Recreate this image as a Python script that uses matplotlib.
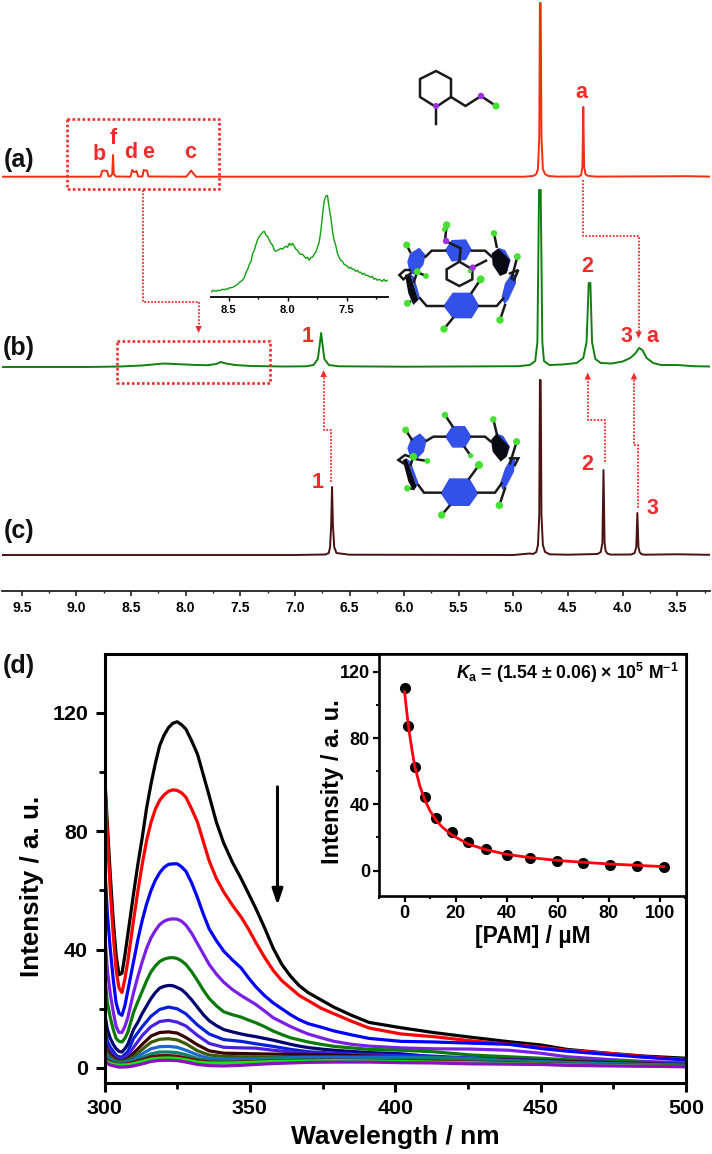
import numpy as np
import matplotlib
matplotlib.use("Agg")
import matplotlib.pyplot as plt
from matplotlib.patches import Polygon, Circle
from matplotlib.ticker import MultipleLocator

plt.rcParams['font.family'] = ['Liberation Sans', 'DejaVu Sans']
plt.rcParams['font.weight'] = 'bold'
plt.rcParams['mathtext.fontset'] = 'custom'
plt.rcParams['mathtext.rm'] = 'Liberation Sans:bold'
plt.rcParams['mathtext.bf'] = 'Liberation Sans:bold'
plt.rcParams['mathtext.it'] = 'Liberation Sans:italic:bold'

W, H = 712, 1154

# ---------- NMR data ----------
A_PPM = [9.68, 8.78, 8.765, 8.745, 8.72, 8.705, 8.685, 8.672, 8.665, 8.658, 8.64, 8.505, 8.49, 8.475, 8.465, 8.45,
         8.435, 8.395, 8.385, 8.37, 8.355, 8.34, 7.995, 7.97, 7.95, 7.93, 7.905, 4.9, 4.82, 4.79, 4.775, 4.763, 4.757,
         4.75, 4.743, 4.73, 4.71, 4.68, 4.6, 4.4, 4.38, 4.368, 4.36, 4.352, 4.34, 4.32, 4.25, 3.4, 3.2]
A_INT = [0.3, 0.3, 6, 6.5, 6, 0.5, 1, 3, 22, 3, 0.5, 0.3, 7, 5, 5, 6, 0.5, 0.5, 7, 6.5, 6.5, 0.5, 0.3, 3.5, 6.5, 3.5,
         0.3, 0.3, 1, 3, 8, 40, 174, 174, 40, 8, 3, 1, 0.4, 0.5, 2, 10, 70, 10, 3, 1.2, 0.4, 0.8, 0.4]
B_PPM = [9.68, 8.9, 8.6, 8.4, 8.3, 8.2, 8.1, 8.0, 7.9, 7.8, 7.72, 7.68, 7.63, 7.55, 7.4, 7.1, 6.9, 6.83, 6.79, 6.77,
         6.76, 6.75, 6.73, 6.69, 6.6, 6.0, 4.95, 4.85, 4.8, 4.78, 4.765, 4.75, 4.735, 4.72, 4.67, 4.55, 4.42, 4.36,
         4.33, 4.31, 4.295, 4.28, 4.25, 4.2, 4.1, 4.0, 3.93, 3.88, 3.85, 3.82, 3.78, 3.72, 3.65, 3.5, 3.35, 3.2]
B_INT = [0, 0, 0.5, 1.5, 2.5, 3.5, 3, 2.5, 2, 1.8, 3, 5, 3.5, 2, 1, 0.5, 0.7, 2, 8, 25, 34, 25, 8, 2, 0.7, 0.3, 0.8,
         2, 6, 25, 177, 177, 25, 6, 2, 2.5, 4, 9, 25, 84, 84, 25, 8, 4, 3.5, 5.5, 9, 14, 19, 17, 9, 4, 2, 2, 0.8, 0.5]
C_PPM = [9.68, 7.0, 6.72, 6.69, 6.678, 6.668, 6.66, 6.652, 6.64, 6.62, 6.5, 5.0, 4.85, 4.82, 4.79, 4.775, 4.763, 4.757,
         4.75, 4.743, 4.73, 4.71, 4.69, 4.67, 4.5, 4.23, 4.2, 4.185, 4.175, 4.165, 4.155, 4.14, 4.11, 3.92, 3.89,
         3.875, 3.865, 3.855, 3.845, 3.83, 3.8, 3.5, 3.2]
C_INT = [0, 0, 0.5, 2, 8, 30, 68, 30, 8, 2, 0.3, 0, 1.5, 1, 3, 10, 40, 175, 175, 40, 10, 3, 2, 0.7, 0.3, 1, 3, 12, 85,
         12, 4, 1.5, 0.4, 0.5, 2, 8, 42, 8, 3, 1, 0.3, 0.7, 0.2]
NMR_TICKS = [9.5, 9.0, 8.5, 8.0, 7.5, 7.0, 6.5, 6.0, 5.5, 5.0, 4.5, 4.0, 3.5]

ZOOM_PPM = np.linspace(8.649, 7.156, 107)
ZOOM_INT = [5.5, 7, 6.5, 6, 7, 6.5, 7.5, 8, 7.5, 8.5, 8, 9.5, 9.5, 10, 11, 12, 13, 15, 16, 17.5, 20, 25, 28, 33, 36, 44,
            47, 53, 58, 61, 63, 65, 66, 62, 61, 57, 54, 52, 47, 46, 47, 48, 49, 48, 50, 51, 50, 54, 52, 54, 51, 48, 47,
            44, 43, 43, 41, 39, 40, 37, 40, 40, 43, 45, 50, 55, 66, 82, 96, 101, 102, 90, 80, 67, 57, 52, 44, 40, 37,
            36, 33, 32, 31, 29, 30, 28, 28, 26, 27, 25, 25, 23, 24, 22, 22, 21, 20, 21, 18, 19, 17, 18, 17, 16, 18, 16, 17]
ZOOM_TICKS = [8.5, 8.0, 7.5]

# ---------- fluorescence data ----------
WL = [300, 301, 302, 304, 305, 306, 308, 310, 313, 316, 319, 322, 325, 328, 332, 336, 341, 347, 352, 358, 364, 370,
      379, 391, 402, 413, 426, 439, 450, 459, 473, 486, 500]
I_BLACK = [100, 82, 65, 38, 31.5, 32, 45, 59, 78, 96, 109, 115, 117, 114.5, 106, 92, 76, 64, 54, 40.5, 31, 25.5, 20.5,
           15.4, 13.6, 12, 10.4, 8.9, 7.8, 6.3, 5, 4, 3.3]
I_RED = [100, 78, 60, 33, 27, 25.5, 36, 50, 69, 83, 90.5, 93.5, 93.8, 91.5, 83, 70, 59.5, 51, 42.5, 33, 27, 22.8, 18.3,
         13.5, 11.5, 10.6, 9.2, 8.1, 7, 6, 5, 3.8, 2.9]
I_BLUE = [70, 52, 40, 22, 18.5, 17.8, 26, 36, 50, 60, 66, 68.8, 69, 66.5, 57.5, 47, 39.5, 33.8, 27.5, 22, 18, 15, 12.5,
          10, 9, 8.8, 8.4, 8, 6.6, 5.7, 4.6, 3.6, 2.7]
I_VIOLET = [46, 33, 25, 14, 12, 12, 17, 25.5, 36, 44, 48.5, 50.2, 50.3, 48.3, 42, 35, 29, 24.5, 21.5, 17, 14, 11.5, 9,
            7.4, 6.8, 6.5, 6.4, 6, 5, 3.8, 2.9, 2.2, 1.8]
I_GREEN = [32, 22, 17, 10, 9, 8.8, 12, 18.8, 26, 32.5, 36, 37.2, 37, 35, 29.5, 23.5, 19, 17.2, 15.3, 12.5, 10.2, 8.8,
           7.3, 6.3, 6, 5.5, 4.4, 3.8, 3.3, 2.8, 2.4, 1.9, 1.4]
I_NAVY = [19, 13, 10, 6.5, 5.6, 5.4, 8, 13, 18.5, 23.5, 27, 27.9, 27.2, 25.2, 20.5, 16, 13, 11.5, 10.6, 9.4, 8, 6.9, 6,
          5.2, 4.8, 3.8, 3, 2.6, 2.1, 1.8, 1.5, 1.2, 1]
I_BLUE2 = [14, 9, 7, 4.3, 3.8, 3.7, 5.5, 10, 14, 17.5, 19.8, 20.6, 20, 18.3, 14.5, 11.5, 9.6, 9, 8.2, 7.3, 6.3, 5.5, 5,
           4.6, 4.3, 4, 3.4, 2.9, 2.5, 2.2, 1.9, 1.6, 1.3]
I_INDIGO = [11, 7, 5.5, 3.4, 3, 3, 4.2, 7, 11, 14, 15.7, 16.1, 15.5, 14.2, 11, 8.3, 7, 6.8, 6.7, 6, 5.4, 5, 4.8, 4.3,
            3.9, 3.7, 3.2, 2.8, 2.5, 2.2, 1.8, 1.5, 1.2]
I_MAROON = [9, 6, 4.5, 2.8, 2.4, 2.3, 3.2, 5, 8, 10.8, 12, 12.2, 11.8, 10.3, 7.8, 5.8, 5, 4.9, 4.8, 4.7, 4.6, 4.6, 4.4,
            4, 3.7, 3.4, 3, 2.7, 2.5, 2.2, 1.8, 1.4, 1.1]
I_OLIVE = [8, 5, 3.8, 2.5, 2.2, 2.2, 2.7, 3.8, 6.3, 8.7, 9.7, 9.9, 9.5, 8.2, 5.8, 4.4, 3.9, 3.8, 3.8, 3.7, 3.7, 3.7,
           3.6, 3.4, 3.2, 3, 2.6, 2.3, 2, 1.8, 1.5, 1.2, 1]
I_AZURE = [6, 3.8, 3, 2, 1.8, 1.8, 2.2, 2.9, 4.8, 6.5, 7.2, 7.3, 7, 6, 4.4, 3.3, 3, 3, 3.1, 3.3, 3.5, 3.6, 3.7, 3.7,
           3.7, 3.5, 3, 2.5, 2.2, 1.9, 1.5, 1.2, 0.9]
I_TEAL = [5, 3.2, 2.5, 1.7, 1.5, 1.5, 1.8, 2.4, 3.6, 4.8, 5.4, 5.4, 5.2, 4.5, 3.2, 2.5, 2.3, 2.4, 2.6, 2.8, 2.9, 3, 3,
          3.1, 3.2, 3.5, 3.2, 2.4, 1.8, 1.6, 1.3, 1, 0.8]
I_DKRED = [4, 2.5, 2, 1.3, 1.2, 1.2, 1.4, 2, 2.8, 3.8, 4.2, 4.2, 4, 3.4, 2.5, 2, 1.9, 2, 2.2, 2.4, 2.5, 2.6, 2.6, 2.5,
           2.5, 2.3, 2, 1.7, 1.4, 1.2, 1, 0.8, 0.6]
I_LIME = [3, 2, 1.6, 1.1, 1, 1, 1.1, 1.5, 2.2, 3, 3.3, 3.4, 3.2, 2.8, 2, 1.7, 1.7, 1.8, 2, 2.2, 2.3, 2.4, 2.5, 2.4,
          2.2, 2, 1.8, 1.5, 1.3, 1.1, 0.9, 0.7, 0.5]
I_PURPLE = [2.5, 1.5, 1, 0.5, 0.3, 0.3, 0.4, 0.7, 1.4, 2.2, 2.6, 2.6, 2.5, 2, 1.2, 0.8, 0.7, 0.9, 1.2, 1.5, 1.7, 1.9,
            2, 2, 1.8, 1.7, 1.4, 1.3, 1.2, 0.9, 0.7, 0.6, 0.4]
SERIES = [I_BLACK, I_RED, I_BLUE, I_VIOLET, I_GREEN, I_NAVY, I_BLUE2, I_INDIGO, I_MAROON, I_OLIVE, I_AZURE, I_TEAL,
          I_DKRED, I_LIME, I_PURPLE]
COLORS = ['#000000', '#ff0000', '#0000ff', '#7a1fe8', '#0a7a0a', '#000070', '#0a20d8', '#4a20e0', '#3a0000', '#3c5a00',
          '#1a6ad0', '#108070', '#6a0a0a', '#10e810', '#8a10c0']

# extra readings for the six tallest curves, taken between the common wavelengths above
WL_EXTRA = [303, 307, 311.5, 314.5, 317.5, 320.5, 323.5, 326.5, 330, 334, 338.5, 344, 349.5, 355, 361, 367, 374.5, 385]
X_BLACK = [50, 38, 69, 88, 103, 112.5, 116.5, 116, 110.5, 99, 83, 69.5, 59, 47.5, 35, 27.8, 23, 17.8]
X_RED = [45, 30, 60, 77, 87.5, 92.3, 94, 93, 87.5, 76.5, 64, 55, 47, 37.5, 29.5, 24.5, 20.2, 15.8]
X_BLUE = [30, 21, 43.5, 55.5, 63.5, 67.8, 69, 68, 62.5, 52, 43, 36.5, 30.5, 24.5, 20, 16.3, 13.8, 11.2]
X_VIOLET = [19, 14, 31, 40.5, 46.5, 49.6, 50.4, 49.6, 45.5, 38.5, 31.7, 26.5, 23, 19.3, 15.5, 12.7, 10.2, 8]
X_GREEN = [13, 10, 22.5, 29.5, 34.5, 36.8, 37.3, 36.2, 32.5, 26.3, 21, 18, 16.2, 14, 11.3, 9.5, 8, 6.8]
X_NAVY = [8, 6.5, 15.5, 21, 25.5, 27.6, 27.8, 26.5, 23, 18, 14.3, 12.2, 11, 10, 8.7, 7.4, 6.4, 5.6]
EXTRAS = [X_BLACK, X_RED, X_BLUE, X_VIOLET, X_GREEN, X_NAVY]

PAM = [0, 1.3, 4, 8, 12.5, 18.5, 25, 32, 40, 49, 59.5, 70, 80.5, 91, 101.5]
PAM_I = [110, 87, 62.8, 44.7, 32, 23.5, 17.3, 12.9, 9.5, 7.4, 5.8, 4.4, 3.4, 2.8, 2.2]
FIT_X = [0, 1, 2, 3, 4, 6, 8, 10, 12.5, 15, 18.5, 25, 32, 40, 49, 59.5, 70, 80.5, 91, 101.5]
FIT_Y = [108, 94, 82, 72, 63, 51, 42.5, 36, 30, 26, 21.5, 16, 12.6, 9.8, 7.9, 6.2, 5, 4, 3.2, 2.4]

fig = plt.figure(figsize=(W / 100, H / 100), dpi=100, facecolor='white')


def rect(l, t, r, b):
    return [l / W, 1 - b / H, (r - l) / W, (b - t) / H]


# ---------- NMR axes ----------
ax = fig.add_axes(rect(2, 0, 710, 590.7))
ax.patch.set_alpha(0)
ax.set_xlim(9.6815, 3.2)
ax.set_ylim(0, 590.7)
for s in ('top', 'left', 'right'):
    ax.spines[s].set_visible(False)
ax.spines['bottom'].set_linewidth(1.3)
ax.spines['bottom'].set_color('#222222')
ax.set_yticks([])
ax.set_xticks(NMR_TICKS)
ax.set_xticklabels(['%.1f' % t for t in NMR_TICKS], fontsize=10)
ax.xaxis.set_minor_locator(MultipleLocator(0.25))
ax.tick_params(axis='x', which='major', length=3.5, width=1.2, pad=4, color='#222222')
ax.tick_params(axis='x', which='minor', length=1.5, width=1.0, color='#222222')
ax.plot(A_PPM, np.array(A_INT) + 413.7, color='#f03010', lw=1.4, solid_joinstyle='round')
ax.plot(B_PPM, np.array(B_INT) + 223.7, color='#108010', lw=1.4, solid_joinstyle='round')
ax.plot(C_PPM, np.array(C_INT) + 35.7, color='#4a1212', lw=1.4, solid_joinstyle='round')

# zoomed spectrum
az = fig.add_axes(rect(210.7, 190, 388.3, 297.3))
az.patch.set_alpha(0)
az.set_xlim(8.653, 7.147)
az.set_ylim(0, 107.3)
for s in ('top', 'left', 'right'):
    az.spines[s].set_visible(False)
az.spines['bottom'].set_linewidth(1.3)
az.set_yticks([])
az.set_xticks(ZOOM_TICKS)
az.set_xticklabels(['%.1f' % t for t in ZOOM_TICKS], fontsize=8)
az.xaxis.set_minor_locator(MultipleLocator(0.25))
az.tick_params(axis='x', which='major', length=3, width=1, pad=2.5)
az.tick_params(axis='x', which='minor', length=1.5, width=1)
az.plot(ZOOM_PPM, ZOOM_INT, color='#10a010', lw=1.0)

# ---------- fluorescence axes ----------
am = fig.add_axes(rect(104.5, 654, 686, 1082.5))
am.set_xlim(300, 500)
am.set_ylim(-4.9, 139.9)
for s in am.spines.values():
    s.set_linewidth(2.2)
for i, (y, c) in enumerate(zip(SERIES, COLORS)):
    xs, ys = np.array(WL, float), np.array(y, float)
    if i < len(EXTRAS):
        xs = np.concatenate([xs, WL_EXTRA])
        ys = np.concatenate([ys, EXTRAS[i]])
        order = np.argsort(xs)
        xs, ys = xs[order], ys[order]
    am.plot(xs, ys, color=c, lw=2.3, solid_joinstyle='round', solid_capstyle='butt')
am.set_xticks([300, 350, 400, 450, 500])
am.set_yticks([0, 40, 80, 120])
am.xaxis.set_minor_locator(MultipleLocator(25))
am.yaxis.set_minor_locator(MultipleLocator(20))
am.tick_params(which='major', length=6.8, width=2.2, labelsize=15.4, pad=5)
am.tick_params(which='minor', length=4, width=2)
am.set_xlabel('Wavelength / nm', fontsize=19, fontweight='bold', va='center')
am.xaxis.set_label_coords(0.5, (1082.5 - 1137) / 428.5)
am.set_ylabel('Intensity / a. u.', fontsize=18.7, fontweight='bold', va='center')
am.yaxis.set_label_coords((32 - 104.5) / 581.5, (1082.5 - 886) / 428.5)
am.annotate('', xy=(359.5, 55), xytext=(359.5, 95),
            arrowprops=dict(arrowstyle='-|>,head_width=0.32,head_length=0.95', lw=2.2, color='black',
                            shrinkA=0, shrinkB=0))

# inset
ai = fig.add_axes(rect(379, 654, 686, 896))
ai.set_xlim(-10, 110.2)
ai.set_ylim(-15.3, 130.7)
for s in ai.spines.values():
    s.set_linewidth(1.9)
ai.plot(PAM, PAM_I, 'o', color='black', ms=8, mew=0, zorder=2)
ai.plot(FIT_X, FIT_Y, color='#ff0010', lw=2, zorder=3, solid_joinstyle='round')
ai.set_xticks([0, 20, 40, 60, 80, 100])
ai.set_yticks([0, 40, 80, 120])
ai.xaxis.set_minor_locator(MultipleLocator(10))
ai.yaxis.set_minor_locator(MultipleLocator(20))
ai.tick_params(which='major', length=4, width=1.6, labelsize=13, pad=2.5)
ai.tick_params(which='minor', length=2.5, width=1.4)
ai.set_xlabel('[PAM] / µM', fontsize=16.5, fontweight='bold', labelpad=2)
ai.set_ylabel('Intensity / a. u.', fontsize=17, fontweight='bold', va='center')
ai.yaxis.set_label_coords((332 - 379) / 307, (896 - 782) / 242)
ai.text(0.975, 0.922, r'$\mathit{K}_{\mathrm{a}}$ = (1.54 ± 0.06) × 10$^{5}$ M$^{-1}$', transform=ai.transAxes,
        ha='right', va='center', fontsize=12.7, fontweight='bold')

# ---------- overlay in pixel coordinates ----------
ov = fig.add_axes([0, 0, 1, 1], zorder=10)
ov.patch.set_alpha(0)
ov.set_xlim(0, W)
ov.set_ylim(H, 0)
ov.axis('off')

RED = '#f52a2a'


def dotted(pts, lw=1.3):
    xs, ys = zip(*pts)
    ov.plot(xs, ys, color=RED, lw=lw, ls=(0, (1, 0.9)), solid_capstyle='butt')


def head(x, y, up):
    d = -1 if up else 1
    ov.add_patch(Polygon([(x, y), (x - 3.2, y - d * 7), (x + 3.2, y - d * 7)], closed=True, color=RED, lw=0))


dotted([(67, 119), (219, 119), (219, 189), (67, 189), (67, 119)], lw=1.9)
dotted([(117, 341), (269.5, 341), (269.5, 382.7), (117, 382.7), (117, 341)], lw=1.9)
dotted([(143, 190), (143, 302), (198.6, 302), (198.6, 327)])
head(198.6, 333, False)
dotted([(582.7, 180), (582.7, 236), (638.6, 236), (638.6, 332)])
head(638.6, 338.5, False)
dotted([(331, 481.7), (331, 430), (323.6, 430), (323.6, 376)])
head(323.6, 370, True)
dotted([(604.5, 461.7), (604.5, 420), (587.7, 420), (587.7, 378)])
head(587.7, 372.5, True)
dotted([(637.7, 508), (637.7, 445), (634, 445), (634, 378)])
head(634, 372.5, True)

for s, x, y in [('b', 99, 154), ('f', 113.6, 138), ('d', 130.5, 153), ('e', 148, 153), ('c', 190, 153), ('a', 581, 92),
                ('1', 308, 337), ('2', 587, 267), ('3', 626, 336), ('a', 652.7, 336), ('1', 318, 483), ('2', 587, 465),
                ('3', 652, 508)]:
    ov.text(x, y, s, color=RED, fontsize=15.5, fontweight='bold', ha='center', va='center')
for s, y in [('(a)', 160), ('(b)', 348), ('(c)', 531), ('(d)', 666)]:
    ov.text(19, y, s, color='#111111', fontsize=18, fontweight='bold', ha='center', va='center')


def zc(pts, ox, oy, k=3.0):
    return [(ox + a / k, oy + b / k) for a, b in pts]


def hexes(items, ox, oy):
    for poly, c, z in items:
        ov.add_patch(Polygon(zc(poly, ox, oy), closed=True, color=c, lw=0, zorder=z))


def lines(items, ox, oy, lw=1.8, z=5):
    for pts in items:
        xs, ys = zip(*zc(pts, ox, oy))
        ov.plot(xs, ys, color='#1a1a1a', lw=lw, zorder=z, solid_joinstyle='miter')


def dots(items, ox, oy, c, z=6):
    for (a, b, r) in items:
        ov.add_patch(Circle((ox + a / 3, oy + b / 3), r * 1.15, color=c, lw=0, zorder=z))


BLUE = '#3350e8'
# guest, panel a
xy = [(436, 107), (420, 97), (420, 79), (436, 71), (451, 79), (451, 97), (436, 107), (436, 124)]
ov.plot(*zip(*xy), color='#1a1a1a', lw=1.8, zorder=5)
ov.plot([451, 465.5, 481, 496], [97, 106, 96, 106], color='#1a1a1a', lw=1.8, zorder=5)
ov.add_patch(Circle((436, 106), 3, color='#9a30e0', lw=0, zorder=6))
ov.add_patch(Circle((481, 96), 3.2, color='#9a30e0', lw=0, zorder=6))
ov.add_patch(Circle((496, 106), 3.5, color='#40e030', lw=0, zorder=6))

# host + guest, panel b
OBX, OBY = 390, 210
hexes([([(165, 120), (185, 90), (228, 88), (245, 118), (228, 150), (185, 155)], BLUE, 3),
       ([(160, 288), (188, 248), (245, 248), (268, 288), (245, 325), (188, 325)], BLUE, 3),
       ([(52, 155), (60, 130), (88, 113), (107, 135), (100, 165), (75, 195), (58, 185)], BLUE, 3),
       ([(335, 260), (345, 220), (365, 190), (378, 195), (378, 220), (355, 270), (343, 283)], BLUE, 3),
       ([(60, 190), (72, 200), (90, 262), (85, 270)], BLUE, 3),
       ([(45, 195), (60, 190), (85, 270), (70, 285), (55, 250)], '#0a0a14', 4),
       ([(325, 113), (345, 120), (362, 150), (352, 185)], BLUE, 3),
       ([(305, 130), (325, 115), (360, 150), (350, 190), (330, 198), (308, 165)], '#0a0a14', 4)], OBX, OBY)
lines([[(107, 140), (125, 122), (165, 122)], [(245, 122), (285, 122), (305, 140)],
       [(60, 180), (45, 180), (28, 195), (40, 208), (62, 190)], [(90, 265), (110, 288), (160, 288)],
       [(268, 288), (320, 288), (340, 265)], [(360, 190), (385, 180), (372, 210)],
       [(60, 125), (50, 105)], [(320, 110), (312, 70)], [(382, 140), (365, 205)], [(82, 185), (72, 215)],
       [(188, 325), (162, 357)], [(245, 248), (272, 208)], [(345, 285), (330, 330)], [(60, 275), (52, 280)],
       [(90, 190), (108, 198)],
       [(208, 155), (247, 178), (247, 208), (208, 228), (170, 208), (170, 178), (208, 155), (212, 115), (165, 92),
        (170, 45)], [(247, 173), (288, 152)]], OBX, OBY)
dots([(170, 45, 3.2), (163, 58, 2.2), (50, 105, 3), (312, 70, 2.8), (382, 140, 3), (82, 185, 3), (108, 198, 2.5),
      (240, 183, 2), (272, 208, 3.4), (330, 330, 3.2), (162, 357, 3.2), (52, 280, 3)], OBX, OBY, '#45e030')
dots([(168, 93, 2.8), (248, 173, 2.8)], OBX, OBY, '#a030e0')

# host, panel c
OCX, OCY = 390, 400
hexes([([(165, 110), (187, 78), (225, 78), (245, 110), (225, 143), (187, 143)], BLUE, 3),
       ([(152, 280), (178, 235), (238, 235), (265, 280), (238, 318), (178, 318)], BLUE, 3),
       ([(52, 145), (62, 118), (90, 100), (110, 120), (102, 155), (80, 178), (60, 170)], BLUE, 3),
       ([(330, 250), (345, 205), (365, 172), (376, 180), (372, 215), (350, 258), (338, 270)], BLUE, 3),
       ([(50, 175), (62, 185), (85, 248), (80, 260)], BLUE, 3),
       ([(38, 180), (50, 175), (80, 260), (70, 272), (55, 245)], '#0a0a14', 4),
       ([(320, 100), (340, 108), (360, 140), (350, 170)], BLUE, 3),
       ([(303, 120), (320, 100), (358, 140), (350, 170), (332, 185), (308, 155)], '#0a0a14', 4)], OCX, OCY)
lines([[(110, 122), (130, 110), (165, 110)], [(245, 110), (285, 110), (303, 125)],
       [(60, 170), (45, 165), (25, 180), (40, 190)], [(85, 255), (102, 278), (152, 278)],
       [(265, 278), (315, 278), (335, 250)], [(360, 175), (385, 175), (375, 195)],
       [(165, 45), (187, 78)], [(225, 143), (242, 167)], [(47, 90), (65, 118)], [(310, 58), (320, 100)],
       [(380, 125), (360, 190)], [(70, 170), (62, 195)], [(80, 178), (112, 183)], [(50, 265), (70, 265)],
       [(267, 195), (238, 235)], [(178, 318), (155, 345)], [(345, 265), (328, 316)]], OCX, OCY)
dots([(165, 45, 2.8), (242, 167, 2.3), (47, 90, 3), (310, 58, 2.8), (380, 125, 3.1), (70, 170, 3.3), (112, 183, 2.5),
      (52, 265, 2.8), (267, 195, 3.5), (155, 345, 3.2), (328, 316, 3.2)], OCX, OCY, '#45e030')

fig.savefig('out.png', dpi=100)
